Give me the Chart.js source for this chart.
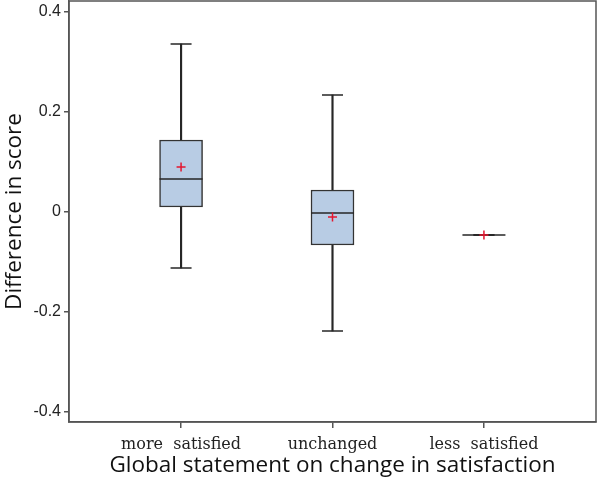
<!DOCTYPE html>
<html>
<head>
<meta charset="utf-8">
<script src="https://cdn.jsdelivr.net/npm/chart.js@4.4.0/dist/chart.umd.min.js"></script>
<style>
  html, body { margin: 0; padding: 0; background: #fff; }
  #wrap { width: 600px; height: 487px; }
</style>
</head>
<body>
<div id="wrap"><canvas id="chart" width="600" height="487"></canvas></div>
<script>
// box plot values
const categories = ['more  satisfied', 'unchanged', 'less  satisfied'];
const whiskerMin = [-0.112, -0.238, -0.046];
const q1 = [0.010, -0.066, -0.046];
const median = [0.066, -0.002, -0.046];
const q3 = [0.144, 0.044, -0.046];
const whiskerMax = [0.336, 0.234, -0.046];
const means = [0.090, -0.010, -0.046];
const yTicks = [-0.4, -0.2, 0, 0.2, 0.4];

const ink = '#262626';
const axisColor = '#555555';

// x position of each category is its index + 1
const pts = arr => arr.map((v, i) => ({x: i + 1, y: v}));
const spans = (a, b) => a.map((v, i) => ({x: i + 1, y: [v, b[i]]}));

// border round the plot area
const frame = {
  id: 'frame',
  afterDraw(chart) {
    const a = chart.chartArea, ctx = chart.ctx;
    ctx.save();
    ctx.strokeStyle = axisColor;
    ctx.lineWidth = 1.5;
    ctx.strokeRect(a.left, a.top, a.right - a.left, a.bottom - a.top);
    ctx.restore();
  }
};

new Chart(document.getElementById('chart'), {
  data: {
    datasets: [
      {
        type: 'scatter', label: 'mean', data: pts(means), order: 0,
        pointStyle: 'cross', radius: 4.5, borderWidth: 1.5,
        borderColor: '#e3162f', backgroundColor: '#e3162f'
      },
      {
        type: 'scatter', label: 'median', data: pts(median), order: 1,
        pointStyle: 'line', radius: 21.5, borderWidth: 1.5,
        borderColor: ink
      },
      {
        type: 'bar', label: 'box', data: spans(q1, q3), order: 2, grouped: false,
        barThickness: 43, backgroundColor: '#b8cce4', borderColor: '#333333',
        borderWidth: 1.5, borderSkipped: false
      },
      {
        type: 'scatter', label: 'caps', data: pts(whiskerMin).concat(pts(whiskerMax)), order: 3,
        pointStyle: 'line', radius: 10.5, borderWidth: 1.5, borderColor: ink
      },
      {
        type: 'bar', label: 'upper whisker', data: spans(q3, whiskerMax), order: 4, grouped: false,
        barThickness: 1.5, backgroundColor: ink, borderWidth: 0
      },
      {
        type: 'bar', label: 'lower whisker', data: spans(whiskerMin, q1), order: 4, grouped: false,
        barThickness: 1.5, backgroundColor: ink, borderWidth: 0
      }
    ]
  },
  options: {
    responsive: false,
    animation: false,
    layout: { autoPadding: false, padding: { top: 1, right: 4, left: 0, bottom: 0 } },
    plugins: { legend: { display: false }, tooltip: { enabled: false } },
    scales: {
      x: {
        type: 'linear', min: 0.26, max: 3.74, offset: false,
        afterBuildTicks: s => { s.ticks = [1, 2, 3].map(v => ({value: v})); },
        afterFit: s => { s.height = 65; s.paddingLeft = 0; s.paddingRight = 0; },
        grid: { drawOnChartArea: false, drawTicks: true, tickLength: 6, color: axisColor, lineWidth: 1.5, offset: false },
        border: { display: true, color: axisColor, width: 1.5 },
        ticks: {
          padding: 7, color: '#222', maxRotation: 0, minRotation: 0, autoSkip: false,
          font: { family: 'DejaVu Serif', size: 16 },
          callback: v => categories[v - 1]
        },
        title: {
          display: true, text: 'Global statement on change in satisfaction',
          color: '#111', font: { family: 'Open Sans', size: 22.5 },
          padding: { top: 0, bottom: 8 }
        }
      },
      y: {
        type: 'linear', min: -0.42, max: 0.422,
        afterBuildTicks: s => { s.ticks = yTicks.map(v => ({value: v})); },
        afterFit: s => { s.width = 69; s.paddingTop = 0; s.paddingBottom = 0; },
        grid: { drawOnChartArea: false, drawTicks: true, tickLength: 5, color: axisColor, lineWidth: 1.5 },
        border: { display: true, color: axisColor, width: 1.5 },
        ticks: {
          padding: 3, color: '#222',
          font: { family: 'Liberation Sans', size: 16 },
          callback: v => (v === 0 ? '0' : String(v))
        },
        title: {
          display: true, text: 'Difference in score',
          color: '#111', font: { family: 'Open Sans', size: 22.5 },
          padding: { top: 1, bottom: 0 }
        }
      }
    }
  },
  plugins: [frame]
});
</script>
</body>
</html>
